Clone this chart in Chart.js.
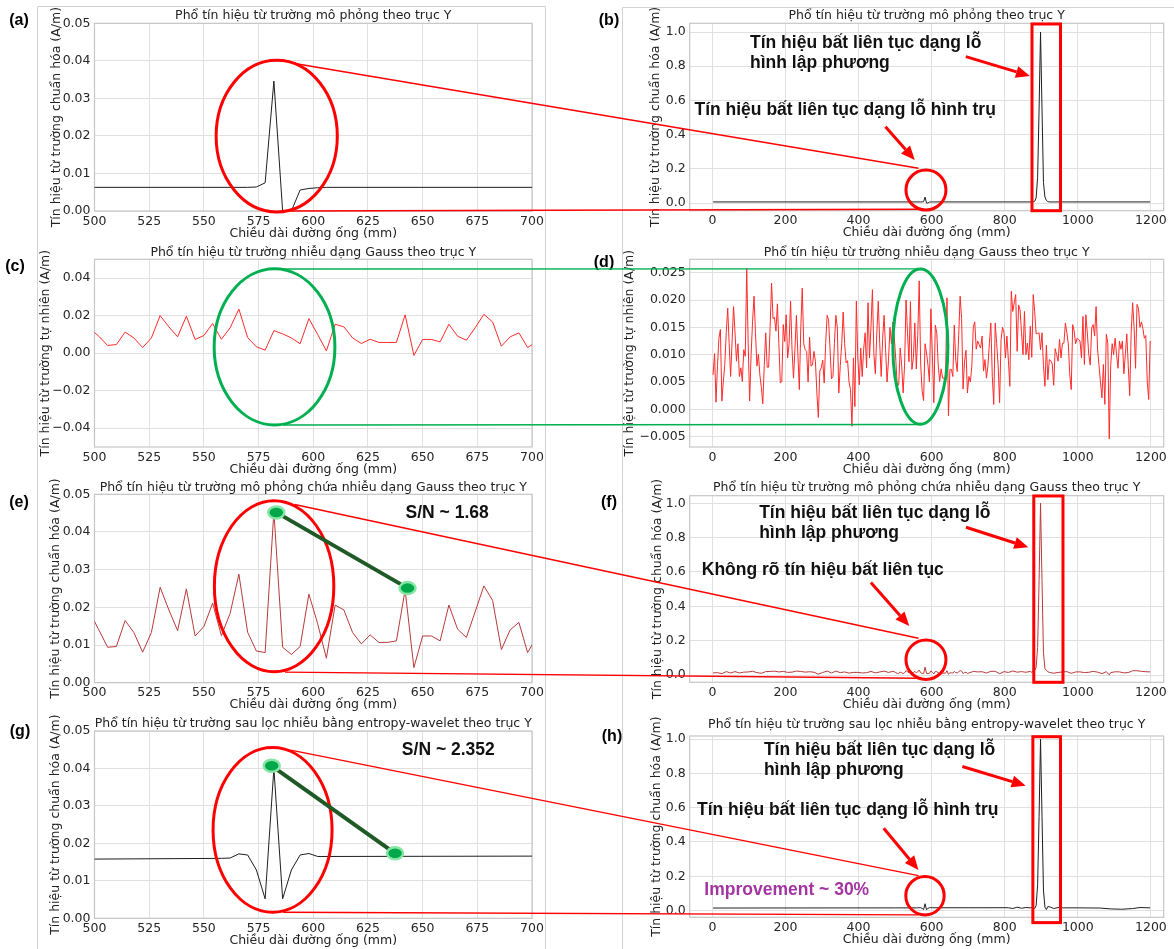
<!DOCTYPE html>
<html>
<head>
<meta charset="utf-8">
<script src="https://cdn.jsdelivr.net/npm/chart.js@4.4.1/dist/chart.umd.min.js"></script>
<style>
  html, body { margin: 0; padding: 0; background: #fff; }
  #page { position: relative; width: 1174px; height: 949px; overflow: hidden; background: #fff; }
  #page canvas { position: absolute; }
  #overlay { left: 0; top: 0; z-index: 5; pointer-events: none; }
</style>
</head>
<body>
<div id="page"><canvas id="overlay" width="1174" height="949"></canvas></div>
<script>
// ---- data (x in mm, y in A/m) ----

// simulated signal (a)/(b): flat baseline, small cylinder hole near 582 mm, cube hole at 898 mm
const simX = [2, 570, 574, 578, 582, 586, 590, 594, 598, 602, 606,
  874, 878, 882, 886, 890, 894, 898, 902, 906, 910, 914, 918, 922, 1198];
const simY = [0.0063, 0.0063, 0.0064, 0.0075, 0.0346, 0.0, 0.0, 0.0056, 0.0060, 0.0062, 0.0063,
  0.0063, 0.0070, 0.010, 0.030, 0.15, 0.55, 1.0, 0.55, 0.12, 0.035, 0.015, 0.0085, 0.0063, 0.0063];

// gaussian noise (c)/(d), one sample every 4 mm starting at 2 mm
const NOISE_X0 = 2, NOISE_DX = 4;
const noiseY = [
  0.0063, 0.0102, 0.0013, 0.0080, 0.0130, 0.0146, 0.0015, 0.0050, 0.0082, 0.0140, // 2..38
  0.0185, 0.0120, 0.0060, 0.0125, 0.0188, 0.0140, 0.0088, 0.0120, 0.0060, 0.0076, // 42..78
  0.0051, 0.0109, 0.0097, 0.0258, 0.0120, 0.0015, 0.0100, 0.0160, 0.0207, 0.0140, // 82..118
  0.0079, 0.0101, 0.0063, 0.0040, 0.0010, 0.0080, 0.0140, 0.0077, 0.0077, 0.0150, // 122..158
  0.0231, 0.0166, 0.0168, 0.0143, 0.0193, 0.0120, 0.0048, 0.0051, 0.0155, 0.0124, // 162..198
  0.0173, 0.0094, 0.0120, 0.0198, 0.0110, 0.0057, 0.0110, 0.0172, 0.0100, 0.0036, // 202..238
  0.0150, 0.0222, 0.0120, 0.0109, 0.0106, 0.0050, 0.0132, 0.0079, 0.0081, 0.0106, // 242..278
  0.0088, 0.0030, -0.0015, 0.0070, 0.0076, 0.0090, 0.0048, 0.0120, 0.0172, 0.0164, // 282..318
  0.0110, 0.0056, 0.0060, 0.0120, 0.0172, 0.0149, 0.0030, 0.0080, 0.0120, 0.0178, // 322..358
  0.0120, 0.0085, 0.0089, 0.0050, 0.0036, -0.0031, 0.0094, 0.0005, 0.0198, 0.0094, // 362..398
  0.0045, 0.0112, 0.0060, 0.0110, 0.0140, 0.0076, 0.0195, 0.0094, 0.0150, 0.0219, // 402..438
  0.0100, 0.0065, 0.0140, 0.0198, 0.0120, 0.0060, 0.0130, 0.0172, 0.0110, 0.0050, // 442..478
  0.0090, 0.0150, 0.0120, 0.0160, 0.0130, 0.0090, 0.0041, 0.0046, 0.0112, 0.0081, // 482..518
  0.0030, 0.0081, 0.0200, 0.0140, 0.0087, 0.0197, 0.0073, 0.0094, 0.0158, 0.0074, // 522..558
  0.0135, 0.0235, 0.0083, 0.0034, 0.0016, 0.0120, 0.0103, 0.0081, 0.0050, 0.0184, // 562..598
  0.0100, 0.0012, 0.0154, 0.0140, 0.0081, 0.0051, 0.0074, 0.0057, 0.0057, 0.0057, // 602..638
  0.0204, -0.0012, 0.0073, 0.0073, 0.0060, 0.0154, 0.0090, 0.0069, 0.0135, 0.0207, // 642..678
  0.0166, 0.0037, 0.0087, 0.0108, 0.0030, 0.0060, 0.0050, 0.0080, 0.0150, 0.0160, // 682..718
  0.0110, 0.0125, 0.0118, 0.0112, 0.0134, 0.0070, 0.0091, 0.0057, 0.0080, 0.0120, // 722..758
  0.0158, 0.0060, 0.0009, 0.0158, 0.0120, 0.0080, 0.0012, 0.0128, 0.0150, 0.0140, // 762..798
  0.0094, 0.0134, 0.0090, 0.0042, 0.0216, 0.0179, 0.0195, 0.0210, 0.0106, 0.0191, // 802..838
  0.0182, 0.0140, 0.0100, 0.0179, 0.0100, 0.0121, 0.0091, 0.0152, 0.0095, 0.0210, // 842..878
  0.0179, 0.0138, 0.0139, 0.0140, 0.0109, 0.0140, 0.0080, 0.0042, 0.0117, 0.0054, // 882..918
  0.0091, 0.0089, 0.0083, 0.0044, 0.0111, 0.0100, 0.0088, 0.0128, 0.0094, 0.0121, // 922..958
  0.0121, 0.0158, 0.0140, 0.0120, 0.0063, 0.0036, 0.0155, 0.0143, 0.0120, 0.0130, // 962..998
  0.0128, 0.0125, 0.0094, 0.0170, 0.0082, 0.0173, 0.0140, 0.0100, 0.0081, 0.0149, // 1002..1038
  0.0155, 0.0134, 0.0188, 0.0110, 0.0080, 0.0050, 0.0021, 0.0082, 0.0009, 0.0137, // 1042..1078
  0.0121, -0.0054, 0.0080, 0.0120, 0.0100, 0.0130, 0.0100, 0.0075, 0.0125, 0.0110, // 1082..1118
  0.0125, 0.0065, 0.0100, 0.0138, 0.0080, 0.0025, 0.0140, 0.0195, 0.0150, 0.0075, // 1122..1158
  0.0192, 0.0185, 0.0150, 0.0160, 0.0148, 0.0130, 0.0135, 0.0050, 0.0018, 0.0125  // 1162..1198
];

// simulated signal + noise (e)/(f)
const noisyX = [
  2, 14, 26, 38, 50, 62, 74, 86, 98, 110, 122, 134,
  146, 158, 170, 182, 194, 206, 218, 230, 242, 254, 266, 278,
  290, 302, 314, 326, 338, 350, 362, 374, 386, 398, 410, 422,
  434, 446, 458, 470, 482, 494,
  498, 502, 506, 510, 514, 518, 522, 526, 530, 534, 538,
  542, 546, 550, 554, 558, 562, 566, 570, 574, 578, 582,
  586, 590, 594, 598, 602, 606, 610, 614, 618, 622, 626,
  630, 634, 638, 642, 646, 650, 654, 658, 662, 666, 670,
  674, 678, 682, 686, 690, 694, 698, 702,
  714, 726, 738, 750, 762, 774, 786, 798, 810, 822, 834, 846, 858, 870,
  874, 878, 882, 886, 890, 894, 898, 902, 906, 910, 914, 918, 922,
  934, 946, 958, 970, 982, 994, 1006, 1018, 1030, 1042, 1054, 1066, 1078,
  1086, 1090, 1102, 1114, 1126, 1138, 1150, 1162, 1174, 1186, 1198
];
const noisyY = [
  0.0122, 0.0139, 0.0076, 0.0197, 0.0119, 0.0197, 0.0119, 0.0167, 0.0177, 0.0216, 0.0138, 0.0100,
  0.0197, 0.0207, 0.0224, 0.0177, 0.0211, 0.0152, 0.0168, 0.0228, 0.0207, 0.0167, 0.0189, 0.0164,
  0.0047, 0.0148, 0.0228, 0.0115, 0.0228, 0.0139, 0.0177, 0.0110, 0.0152, 0.0152, 0.0119, 0.0135,
  0.0207, 0.0124, 0.0177, 0.0228, 0.0148, 0.0216,
  0.0185, 0.0140, 0.0094, 0.0096, 0.0165, 0.0133, 0.0081, 0.0133, 0.0253, 0.0193, 0.0138,
  0.0249, 0.0124, 0.0149, 0.0211, 0.0125, 0.0184, 0.0288, 0.0134, 0.0084, 0.0080, 0.0454,
  0.0094, 0.0075, 0.0096, 0.0235, 0.0157, 0.0065, 0.0206, 0.0193, 0.0133, 0.0103, 0.0127,
  0.0107, 0.0107, 0.0111, 0.0246, 0.0040, 0.0124, 0.0124, 0.0111, 0.0206, 0.0142, 0.0120,
  0.0188, 0.0257, 0.0218, 0.0088, 0.0140, 0.0160, 0.0080, 0.0120,
  0.0207, 0.0182, 0.0191, 0.0116, 0.0214, 0.0214, 0.0073, 0.0197, 0.0148, 0.0235, 0.0164, 0.0197, 0.0158, 0.0208,
  0.0153, 0.0265, 0.028, 0.045, 0.16, 0.55, 1.0, 0.55, 0.13, 0.038, 0.027, 0.020, 0.015,
  0.0104, 0.0147, 0.0178, 0.0197, 0.0096, 0.0177, 0.0182, 0.0141, 0.0158, 0.0211, 0.0168, 0.0081, 0.0194,
  0.0009, 0.0139, 0.0187, 0.0182, 0.0124, 0.0139, 0.0250, 0.0247, 0.0216, 0.0192, 0.0182
];

// after entropy-wavelet filtering (g)/(h)
const filtX = [2, 300, 498, 558, 562, 566, 570, 574, 578, 582, 586, 590, 594, 598, 602, 702,
  810, 822, 834, 846, 858, 870, 878, 882, 886, 890, 894, 898, 902, 906, 910, 914, 918,
  926, 934, 946, 960, 1000, 1060, 1090, 1120, 1150, 1170, 1198];
const filtY = [0.0150, 0.0155, 0.0158, 0.0160, 0.0161, 0.0172, 0.0169, 0.0129, 0.0052, 0.0400, 0.0052, 0.0129, 0.0169, 0.0173, 0.0165, 0.0166,
  0.0168, 0.0120, 0.0200, 0.0140, 0.0180, 0.0160, 0.0200, 0.0120, 0.0300, 0.15, 0.55, 1.0, 0.55, 0.12, 0.020, 0.006, 0.024,
  0.020, 0.012, 0.018, 0.016, 0.016, 0.015, 0.010, 0.008, 0.012, 0.018, 0.016];

// tick values
const zoomXTicks = [500, 525, 550, 575, 600, 625, 650, 675, 700];
const fullXTicks = [0, 200, 400, 600, 800, 1000, 1200];
const zoomSigYTicks = [0, 0.01, 0.02, 0.03, 0.04, 0.05];
const fullSigYTicks = [0, 0.2, 0.4, 0.6, 0.8, 1.0];
const zoomNoiseYTicks = [-0.04, -0.02, 0, 0.02, 0.04];
const fullNoiseYTicks = [-0.005, 0, 0.005, 0.01, 0.015, 0.02, 0.025];

// texts
const T_SIM = 'Phổ tín hiệu từ trường mô phỏng theo trục Y';
const T_NOISE = 'Phổ tín hiệu từ trường nhiễu dạng Gauss theo trục Y';
const T_NOISY = 'Phổ tín hiệu từ trường mô phỏng chứa nhiễu dạng Gauss theo trục Y';
const T_FILT = 'Phổ tín hiệu từ trường sau lọc nhiễu bằng entropy-wavelet theo trục Y';
const Y_NORM = 'Tín hiệu từ trường chuẩn hóa (A/m)';
const Y_NAT = 'Tín hiệu từ trường tự nhiên (A/m)';
const X_TITLE = 'Chiều dài đường ống (mm)';
const NOTE_CUBE_1 = 'Tín hiệu bất liên tục dạng lỗ';
const NOTE_CUBE_2 = 'hình lập phương';
const NOTE_CYL = 'Tín hiệu bất liên tục dạng lỗ hình trụ';
const NOTE_UNCLEAR = 'Không rõ tín hiệu bất liên tục';

// ---- look ----
const FONT = "'DejaVu Sans', sans-serif";
const BOLD = "'Liberation Sans', Arial, sans-serif";
const RED = '#ff0000';
const GREEN = '#00b050';
const INK = '#1f1f1f';

const LEFT_COL = { canvasLeft: 0, canvasWidth: 560, plotLeft: 94.5, plotRight: 532, xMin: 500, xMax: 700, xTicks: zoomXTicks };
const RIGHT_COL = { canvasLeft: 590, canvasWidth: 584, plotLeft: 689.7, plotRight: 1163.7, xMin: -62, xMax: 1235, xTicks: fullXTicks };

const series = {
  sim: simX.map((x, i) => ({ x, y: simY[i] })),
  noise: noiseY.map((y, i) => ({ x: NOISE_X0 + i * NOISE_DX, y })),
  noisy: noisyX.map((x, i) => ({ x, y: noisyY[i] })),
  filt: filtX.map((x, i) => ({ x, y: filtY[i] }))
};

const panels = [
  { id: 'a', col: LEFT_COL, top: 23.3, bottom: 211, yMin: 0, yMax: 0.05, yTicks: zoomSigYTicks, dec: 2, data: 'sim', color: INK,
    title: T_SIM, yTitle: Y_NORM, yTitleX: 56.5, titleGap: 8, label: '(a)', labelX: 19, labelY: 21 },
  { id: 'b', col: RIGHT_COL, top: 23.3, bottom: 210.7, yMin: -0.045, yMax: 1.051, yTicks: fullSigYTicks, dec: 1, data: 'sim', color: INK,
    title: T_SIM, yTitle: Y_NORM, yTitleX: 656, titleGap: 7.5, label: '(b)', labelX: 609, labelY: 21 },
  { id: 'c', col: LEFT_COL, top: 259.3, bottom: 447, yMin: -0.05, yMax: 0.05, yTicks: zoomNoiseYTicks, dec: 2, data: 'noise', color: '#ff2a2a',
    title: T_NOISE, yTitle: Y_NAT, yTitleX: 46, titleGap: 7, label: '(c)', labelX: 15, labelY: 267 },
  { id: 'd', col: RIGHT_COL, top: 259.3, bottom: 447, yMin: -0.0069, yMax: 0.02745, yTicks: fullNoiseYTicks, dec: 3, data: 'noise', color: '#ff2a2a',
    title: T_NOISE, yTitle: Y_NAT, yTitleX: 630, titleGap: 6.5, label: '(d)', labelX: 604, labelY: 263 },
  { id: 'e', col: LEFT_COL, top: 494.3, bottom: 682.7, yMin: 0, yMax: 0.05, yTicks: zoomSigYTicks, dec: 2, data: 'noisy', color: '#b83a3a',
    title: T_NOISY, yTitle: Y_NORM, yTitleX: 56, titleGap: 6.3, label: '(e)', labelX: 19, labelY: 503 },
  { id: 'f', col: RIGHT_COL, top: 495.7, bottom: 682.3, yMin: -0.0425, yMax: 1.044, yTicks: fullSigYTicks, dec: 1, data: 'noisy', color: '#b83a3a',
    title: T_NOISY, yTitle: Y_NORM, yTitleX: 657.5, titleGap: 7.7, label: '(f)', labelX: 609, labelY: 503 },
  { id: 'g', col: LEFT_COL, top: 731, bottom: 918.3, yMin: 0, yMax: 0.05, yTicks: zoomSigYTicks, dec: 2, data: 'filt', color: INK,
    title: T_FILT, yTitle: Y_NORM, yTitleX: 55.5, titleGap: 7, label: '(g)', labelX: 20, labelY: 732 },
  { id: 'h', col: RIGHT_COL, top: 736, bottom: 917.3, yMin: -0.039, yMax: 1.0175, yTicks: fullSigYTicks, dec: 1, data: 'filt', color: INK,
    title: T_FILT, yTitle: Y_NORM, yTitleX: 657, titleGap: 11, label: '(h)', labelX: 612, labelY: 737 }
];

// annotations, in each panel's data units
const ellipses = [
  { panel: 'a', x: 583.3, y: 0.01995, rx: 27.7, ry: 0.0202, color: RED },
  { panel: 'b', x: 584.5, y: 0.076, rx: 54.7, ry: 0.117, color: RED },
  { panel: 'c', x: 582.3, y: 0.00335, rx: 27.6, ry: 0.0416, color: GREEN },
  { panel: 'd', x: 569.2, y: 0.01146, rx: 75.3, ry: 0.01421, color: GREEN },
  { panel: 'e', x: 582.1, y: 0.0256, rx: 27.3, ry: 0.0227, color: RED },
  { panel: 'f', x: 584.5, y: 0.089, rx: 54.7, ry: 0.115, color: RED },
  { panel: 'g', x: 581.4, y: 0.0236, rx: 27.2, ry: 0.022, color: RED },
  { panel: 'h', x: 581.8, y: 0.0868, rx: 52.5, ry: 0.112, color: RED }
];
const boxes = [
  { panel: 'b', x0: 874.6, x1: 952.6, y0: -0.045, y1: 1.047 },
  { panel: 'f', x0: 879.5, x1: 959.4, y0: -0.0425, y1: 1.0425 },
  { panel: 'h', x0: 877, x1: 952.6, y0: -0.07, y1: 1.0134 }
];
const links = [
  { from: ['a', 591.5, 0.0393], to: ['b', 564, 0.203], color: RED },
  { from: ['a', 587.1, 0.0], to: ['b', 564, -0.0368], color: RED },
  { from: ['c', 586.2, 0.0448], to: ['d', 568, 0.0257], color: GREEN },
  { from: ['c', 586.2, -0.0383], to: ['d', 568, -0.00277], color: GREEN },
  { from: ['e', 591.5, 0.0473], to: ['f', 564, 0.214], color: RED },
  { from: ['e', 587.1, 0.0028], to: ['f', 564, -0.019], color: RED },
  { from: ['g', 589.7, 0.0449], to: ['h', 564, 0.204], color: RED },
  { from: ['g', 586.3, 0.0016], to: ['h', 564, -0.025], color: RED }
];
const arrows = [
  { panel: 'b', from: [693.6, 0.856], to: [869, 0.743] },
  { panel: 'b', from: [473.7, 0.446], to: [553.9, 0.251] },
  { panel: 'f', from: [694, 0.860], to: [864.5, 0.744] },
  { panel: 'f', from: [433.7, 0.538], to: [538.8, 0.285] },
  { panel: 'h', from: [684, 0.84], to: [857.4, 0.728] },
  { panel: 'h', from: [468.8, 0.48], to: [564, 0.237] }
];
const notes = [
  { panel: 'b', x: 103, y: 0.934, text: NOTE_CUBE_1 },
  { panel: 'b', x: 103, y: 0.817, text: NOTE_CUBE_2 },
  { panel: 'b', x: -49, y: 0.544, text: NOTE_CYL },
  { panel: 'f', x: 128, y: 0.942, text: NOTE_CUBE_1 },
  { panel: 'f', x: 128, y: 0.825, text: NOTE_CUBE_2 },
  { panel: 'f', x: -29, y: 0.612, text: NOTE_UNCLEAR },
  { panel: 'h', x: 141, y: 0.936, text: NOTE_CUBE_1 },
  { panel: 'h', x: 141, y: 0.82, text: NOTE_CUBE_2 },
  { panel: 'h', x: -42, y: 0.587, text: NOTE_CYL },
  { panel: 'h', x: -22, y: 0.121, text: 'Improvement ~ 30%', color: '#a335a3' },
  { panel: 'e', x: 642.2, y: 0.045, text: 'S/N ~ 1.68' },
  { panel: 'g', x: 640.5, y: 0.045, text: 'S/N ~ 2.352' }
];
const snrMarks = [
  { panel: 'e', peak: [583.1, 0.0452], noise: [643.1, 0.0251] },
  { panel: 'g', peak: [581.0, 0.0407], noise: [637.4, 0.01735] }
];

const fmtY = (v, d) => (v < -1e-12 ? '\u2212' : '') + Math.abs(v).toFixed(d);

// frame, titles and panel letter of each subplot
const decoPlugin = {
  id: 'deco',
  beforeDatasetsDraw(chart, args, o) {
    const { ctx, chartArea: a } = chart;
    ctx.save();
    ctx.strokeStyle = '#c6c6c6';
    ctx.lineWidth = 1.2;
    ctx.strokeRect(a.left, a.top, a.right - a.left, a.bottom - a.top);
    ctx.restore();
  },
  afterDraw(chart, args, o) {
    const { ctx, chartArea: a } = chart;
    const midX = (a.left + a.right) / 2;
    ctx.save();
    ctx.fillStyle = '#222';
    ctx.font = `12.5px ${FONT}`;
    ctx.textAlign = 'center';
    ctx.textBaseline = 'middle';
    ctx.fillText(o.title, midX, a.top - o.titleGap);
    ctx.fillText(X_TITLE, midX, a.bottom + 22.5);
    ctx.save();
    ctx.translate(o.yTitleX - o.left, (a.top + a.bottom) / 2);
    ctx.rotate(-Math.PI / 2);
    ctx.fillText(o.yTitle, 0, 0);
    ctx.restore();
    ctx.fillStyle = '#000';
    ctx.font = `bold 16px ${BOLD}`;
    ctx.fillText(o.label, o.labelX - o.left, o.labelY - o.top);
    ctx.restore();
  }
};

const page = document.getElementById('page');
const overlay = document.getElementById('overlay');
const charts = {};
const offsets = {};

panels.forEach(p => {
  const col = p.col;
  const cTop = Math.floor(p.top - 30);
  const cHeight = Math.ceil(p.bottom + 34 - cTop);
  const cv = document.createElement('canvas');
  cv.width = col.canvasWidth;
  cv.height = cHeight;
  cv.style.left = col.canvasLeft + 'px';
  cv.style.top = cTop + 'px';
  page.insertBefore(cv, overlay);
  offsets[p.id] = { left: col.canvasLeft, top: cTop };

  const padLeft = 6;
  const yWidth = col.plotLeft - col.canvasLeft - padLeft;
  const xHeight = 30;
  const padTop = p.top - cTop;
  const padBottom = cHeight - (p.bottom - cTop) - xHeight;
  const padRight = col.canvasLeft + col.canvasWidth - col.plotRight;

  charts[p.id] = new Chart(cv, {
    type: 'line',
    data: {
      datasets: [{
        data: series[p.data],
        borderColor: p.color,
        borderWidth: 1,
        pointRadius: 0,
        tension: 0,
        fill: false
      }]
    },
    options: {
      responsive: false,
      animation: false,
      events: [],
      layout: { autoPadding: false, padding: { left: padLeft, right: padRight, top: padTop, bottom: padBottom } },
      plugins: {
        legend: { display: false },
        tooltip: { enabled: false },
        title: { display: false },
        deco: {
          title: p.title, yTitle: p.yTitle, yTitleX: p.yTitleX, titleGap: p.titleGap,
          label: p.label, labelX: p.labelX, labelY: p.labelY, left: col.canvasLeft, top: cTop
        }
      },
      scales: {
        x: {
          type: 'linear',
          min: col.xMin,
          max: col.xMax,
          afterBuildTicks: s => { s.ticks = col.xTicks.map(v => ({ value: v })); },
          afterFit: s => { s.height = xHeight; s.paddingLeft = 0; s.paddingRight = 0; },
          grid: { color: '#e0e0e0', lineWidth: 1, drawTicks: false },
          border: { display: false },
          ticks: {
            autoSkip: false, maxRotation: 0, padding: 3, color: '#262626',
            font: { family: FONT, size: 12.5 },
            callback: v => String(v)
          }
        },
        y: {
          type: 'linear',
          min: p.yMin,
          max: p.yMax,
          afterBuildTicks: s => { s.ticks = p.yTicks.map(v => ({ value: v })); },
          afterFit: s => { s.width = yWidth; s.paddingTop = 0; s.paddingBottom = 0; },
          grid: { color: '#e0e0e0', lineWidth: 1, drawTicks: false },
          border: { display: false },
          ticks: {
            autoSkip: false, padding: 4, color: '#262626',
            font: { family: FONT, size: 12.5 },
            callback: v => fmtY(v, p.dec)
          }
        }
      }
    },
    plugins: [decoPlugin]
  });
});

// ---- overlay: links between panels, ellipses, boxes, arrows and notes ----
const ov = overlay.getContext('2d');
function toPage(id, x, y) {
  const c = charts[id], o = offsets[id];
  return [c.scales.x.getPixelForValue(x) + o.left, c.scales.y.getPixelForValue(y) + o.top];
}

// borders of the original sub-figures
ov.strokeStyle = '#d2d2d2';
ov.lineWidth = 1;
ov.beginPath();
ov.moveTo(37.5, 949); ov.lineTo(37.5, 6.5); ov.lineTo(545.5, 6.5); ov.lineTo(545.5, 949);
ov.moveTo(622.5, 949); ov.lineTo(622.5, 7.5); ov.lineTo(1174, 7.5);
ov.stroke();

links.forEach(l => {
  const [x0, y0] = toPage(...l.from);
  const [x1, y1] = toPage(...l.to);
  ov.strokeStyle = l.color;
  ov.lineWidth = 1.4;
  ov.beginPath(); ov.moveTo(x0, y0); ov.lineTo(x1, y1); ov.stroke();
});

ellipses.forEach(e => {
  const [cx, cy] = toPage(e.panel, e.x, e.y);
  const [ex] = toPage(e.panel, e.x + e.rx, e.y);
  const [, ey] = toPage(e.panel, e.x, e.y + e.ry);
  ov.strokeStyle = e.color;
  ov.lineWidth = 3;
  ov.beginPath();
  ov.ellipse(cx, cy, Math.abs(ex - cx), Math.abs(cy - ey), 0, 0, Math.PI * 2);
  ov.stroke();
});

boxes.forEach(b => {
  const [x0, y0] = toPage(b.panel, b.x0, b.y1);
  const [x1, y1] = toPage(b.panel, b.x1, b.y0);
  ov.strokeStyle = RED;
  ov.lineWidth = 3;
  ov.strokeRect(x0, y0, x1 - x0, y1 - y0);
});

arrows.forEach(a => {
  const [x0, y0] = toPage(a.panel, ...a.from);
  const [x1, y1] = toPage(a.panel, ...a.to);
  const ang = Math.atan2(y1 - y0, x1 - x0);
  const L = 14, W = 6;
  const bx = x1 - L * Math.cos(ang), by = y1 - L * Math.sin(ang);
  ov.strokeStyle = RED;
  ov.fillStyle = RED;
  ov.lineWidth = 3;
  ov.beginPath(); ov.moveTo(x0, y0); ov.lineTo(bx, by); ov.stroke();
  ov.beginPath();
  ov.moveTo(x1, y1);
  ov.lineTo(bx + W * Math.sin(ang), by - W * Math.cos(ang));
  ov.lineTo(bx - W * Math.sin(ang), by + W * Math.cos(ang));
  ov.closePath(); ov.fill();
});

snrMarks.forEach(s => {
  const [x0, y0] = toPage(s.panel, ...s.peak);
  const [x1, y1] = toPage(s.panel, ...s.noise);
  ov.strokeStyle = '#1f5a26';
  ov.lineWidth = 4;
  ov.beginPath(); ov.moveTo(x0, y0); ov.lineTo(x1, y1); ov.stroke();
  [[x0, y0], [x1, y1]].forEach(([x, y]) => {
    ov.beginPath();
    ov.ellipse(x, y, 8, 6, 0, 0, Math.PI * 2);
    ov.fillStyle = '#00a84a';
    ov.fill();
    ov.strokeStyle = '#86e6a4';
    ov.lineWidth = 2.5;
    ov.stroke();
  });
});

notes.forEach(n => {
  const [x, y] = toPage(n.panel, n.x, n.y);
  ov.fillStyle = n.color || '#111';
  ov.font = `bold 17.5px ${BOLD}`;
  ov.textAlign = 'left';
  ov.textBaseline = 'middle';
  ov.fillText(n.text, x, y);
});
</script>
</body>
</html>
